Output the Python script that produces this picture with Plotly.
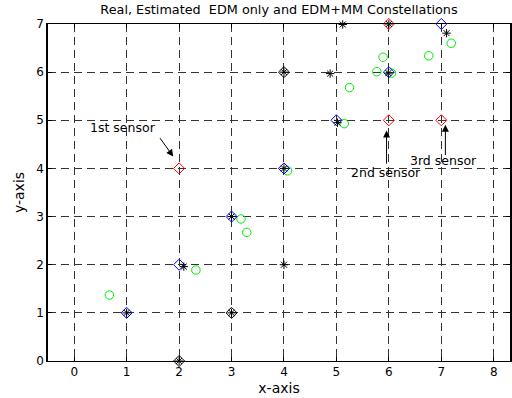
import plotly.graph_objects as go

# Real sensor positions (red diamonds)
red_x = [2, 6, 7, 6]
red_y = [4, 5, 5, 7]
# Constellation (blue diamonds)
blue_x = [1, 2, 3, 4, 5, 6, 7]
blue_y = [1, 2, 3, 4, 5, 6, 7]
# Anchors (black diamonds)
anc_x = [2, 3, 4]
anc_y = [0, 1, 6]
# EDM only estimates (black stars)
edm_x = [1, 2.09, 3, 4, 5.02, 4.88, 5.12, 6, 5.99, 7.10, 4, 4, 2, 3]
edm_y = [1, 1.96, 3, 4, 4.95, 5.97, 6.99, 7, 5.98, 6.81, 6, 2, 0, 1]
# EDM+MM estimates (green circles)
mm_x = [0.67, 2.32, 3.18, 3.29, 4.07, 5.15, 5.25, 5.77, 5.89, 6.76, 7.19, 6.05]
mm_y = [1.37, 1.89, 2.95, 2.67, 3.95, 4.93, 5.68, 6.01, 6.31, 6.34, 6.60, 5.98]

x_ticks = [0, 1, 2, 3, 4, 5, 6, 7, 8]
y_ticks = [0, 1, 2, 3, 4, 5, 6, 7]

# annotations: label, text x,y, arrow tail x,y, arrow tip x,y
ann_labels = ["1st sensor", "2nd sensor", "3rd sensor"]
ann_text_x = [0.93, 5.94, 7.05]
ann_text_y = [4.85, 3.91, 4.16]
ann_tail_x = [1.616, 5.956, 7.078]
ann_tail_y = [4.66, 4.07, 4.247]
ann_tip_x = [1.888, 5.956, 7.078]
ann_tip_y = [4.247, 4.788, 4.906]

FONT = "DejaVu Sans, Arial"

fig = go.Figure()
fig.add_trace(go.Scatter(x=mm_x, y=mm_y, mode="markers", cliponaxis=False,
                         marker=dict(symbol="circle-open", size=8.5, color="#00ee00", line=dict(width=1))))
fig.add_trace(go.Scatter(x=anc_x, y=anc_y, mode="markers", cliponaxis=False,
                         marker=dict(symbol="diamond-open", size=8.5, color="black", line=dict(width=1))))
fig.add_trace(go.Scatter(x=blue_x, y=blue_y, mode="markers", cliponaxis=False,
                         marker=dict(symbol="diamond-open", size=8.5, color="#0000ff", line=dict(width=1))))
fig.add_trace(go.Scatter(x=red_x, y=red_y, mode="markers", cliponaxis=False,
                         marker=dict(symbol="diamond-open", size=8.5, color="#ff0000", line=dict(width=1))))
fig.add_trace(go.Scatter(x=edm_x, y=edm_y, mode="markers", cliponaxis=False,
                         marker=dict(symbol="asterisk-open", size=7, color="black", line=dict(width=1, color="black"))))

annotations = []
for lab, tx, ty in zip(ann_labels, ann_text_x, ann_text_y):
    annotations.append(dict(x=tx, y=ty, xref="x", yref="y", text=lab, showarrow=False,
                            font=dict(family=FONT, size=12.5, color="black")))
for ax_, ay_, x_, y_ in zip(ann_tail_x, ann_tail_y, ann_tip_x, ann_tip_y):
    annotations.append(dict(x=x_, y=y_, ax=ax_, ay=ay_, xref="x", yref="y", axref="x", ayref="y",
                            text="", showarrow=True, arrowhead=2, arrowsize=1.4, arrowwidth=1,
                            arrowcolor="black", standoff=0, startstandoff=0))

fig.update_layout(
    width=512, height=398,
    margin=dict(l=48, r=0, t=24, b=37),
    paper_bgcolor="white", plot_bgcolor="white",
    showlegend=False,
    font=dict(family=FONT, size=12, color="black"),
    title=dict(text="Real, Estimated  EDM only and EDM+MM Constellations", x=0.5, xanchor="center",
               xref="paper", y=1 - 10 / 398, yanchor="middle", font=dict(size=12.8)),
    annotations=annotations,
)
fig.update_xaxes(range=[-0.5, 8.31], tickvals=x_ticks, ticks="inside", ticklen=4, tickcolor="black",
                 showline=True, linecolor="black", linewidth=1, mirror="ticks",
                 showgrid=True, gridcolor="#333333", gridwidth=1, griddash="8px,5px",
                 zeroline=False, title=dict(text="x-axis", standoff=4))
fig.update_yaxes(range=[0, 7], tickvals=y_ticks, ticks="inside", ticklen=4, tickcolor="black",
                 showline=True, linecolor="black", linewidth=1.5, mirror="ticks",
                 showgrid=True, gridcolor="#333333", gridwidth=1, griddash="8px,5px",
                 zeroline=False, title=dict(text="y-axis", standoff=8))

fig.write_html("out.html")
